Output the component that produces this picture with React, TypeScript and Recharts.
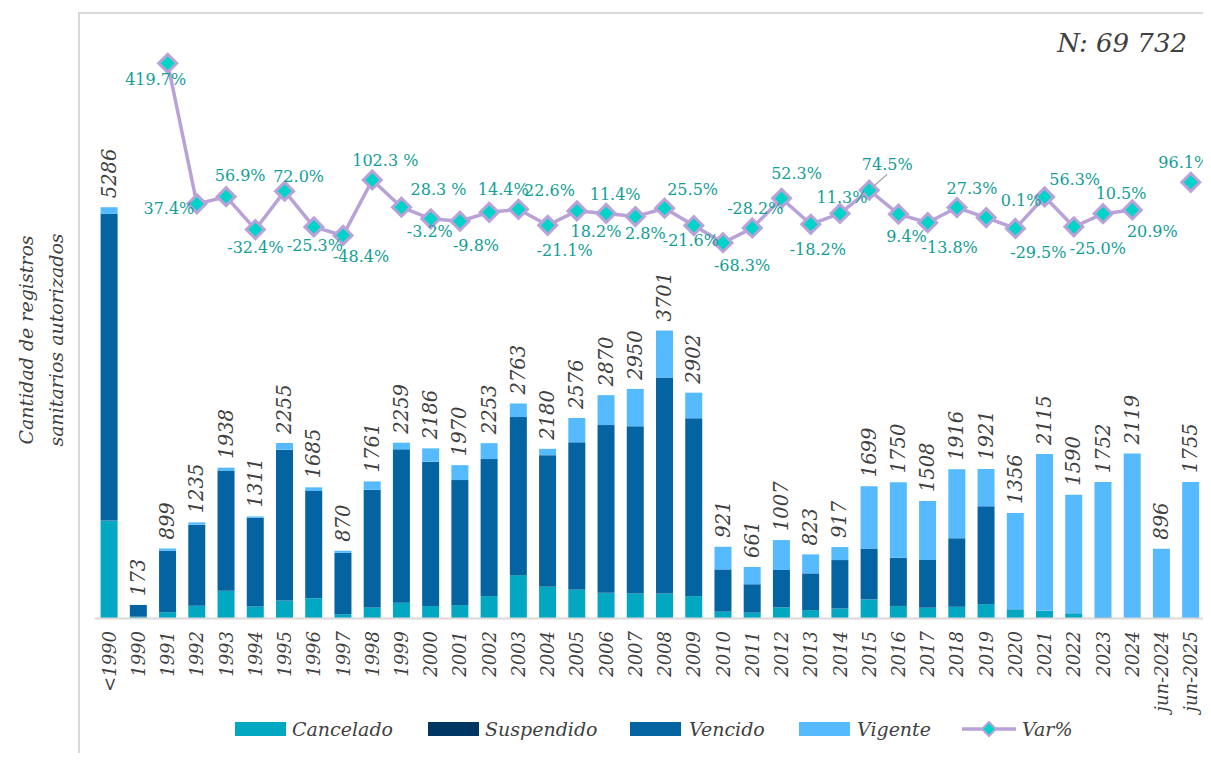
import React from 'react';
import { ComposedChart, Bar, Line, XAxis, YAxis } from 'recharts';

const CATEGORIES = [
  '<1990', '1990', '1991', '1992', '1993', '1994', '1995', '1996', '1997', '1998',
  '1999', '2000', '2001', '2002', '2003', '2004', '2005', '2006', '2007', '2008',
  '2009', '2010', '2011', '2012', '2013', '2014', '2015', '2016', '2017', '2018',
  '2019', '2020', '2021', '2022', '2023', '2024', 'jun-2024', 'jun-2025',
];

const CANCELADO = [
  1255, 20, 80, 160, 353, 151, 228, 259, 54, 139,
  200, 158, 171, 286, 556, 406, 372, 328, 321, 321,
  286, 85, 72, 141, 106, 128, 244, 158, 136, 149,
  183, 115, 98, 64, 13, 0, 0, 0,
];
const SUSPENDIDO = [
  2, 3, 2, 2, 2, 2, 2, 2, 2, 2,
  2, 2, 2, 2, 2, 5, 4, 6, 3, 3,
  2, 2, 2, 2, 2, 2, 2, 2, 2, 2,
  2, 0, 0, 0, 0, 0, 0, 0,
];
const VENCIDO = [
  3944, 150, 787, 1043, 1545, 1141, 1939, 1377, 788, 1513,
  1971, 1855, 1605, 1760, 2030, 1687, 1887, 2151, 2146, 2774,
  2284, 543, 365, 479, 471, 620, 652, 620, 613, 880,
  1256, 3, 3, 3, 5, 0, 0, 0,
];
const VIGENTE = [
  85, 0, 30, 30, 38, 17, 86, 47, 26, 107,
  86, 171, 192, 205, 175, 82, 313, 385, 480, 603,
  330, 291, 222, 385, 244, 167, 801, 970, 757, 885,
  480, 1238, 2014, 1523, 1734, 2119, 896, 1755,
];
const TOTALS = [
  5286, 173, 899, 1235, 1938, 1311, 2255, 1685, 870, 1761,
  2259, 2186, 1970, 2253, 2763, 2180, 2576, 2870, 2950, 3701,
  2902, 921, 661, 1007, 823, 917, 1699, 1750, 1508, 1916,
  1921, 1356, 2115, 1590, 1752, 2119, 896, 1755,
];
const VAR_PCT = [
  null, null, 419.7, 37.4, 56.9, -32.4, 72.0, -25.3, -48.4, 102.3,
  28.3, -3.2, -9.8, 14.4, 22.6, -21.1, 18.2, 11.4, 2.8, 25.5,
  -21.6, -68.3, -28.2, 52.3, -18.2, 11.3, 74.5, 9.4, -13.8, 27.3,
  0.1, -29.5, 56.3, -25.0, 10.5, 20.9, null, 96.1,
];
const VAR_LABELS = [
  '', '', '419.7%', '37.4%', '56.9%', '-32.4%', '72.0%', '-25.3%', '-48.4%', '102.3 %',
  '28.3 %', '-3.2%', '-9.8%', '14.4%', '22.6%', '-21.1%', '18.2%', '11.4%', '2.8%', '25.5%',
  '-21.6%', '-68.3%', '-28.2%', '52.3%', '-18.2%', '11.3%', '74.5%', '9.4%', '-13.8%', '27.3%',
  '0.1%', '-29.5%', '56.3%', '-25.0%', '10.5%', '20.9%', '', '96.1%',
];

// where each Var% label sits relative to its marker (text centre)
const LABEL_OFFSETS: [number, number][] = [
  [0, 0], [0, 0], [-12, 16], [-28, 5], [14, -21], [0, 18], [14, -15], [1, 19], [18, 21], [13, -19],
  [37, -18], [-1, 13], [16, 24], [14, -23], [31, -19], [17, 25], [19, 21], [9, -19], [10, 17], [28, -19],
  [-3, 15], [19, 23], [3, -19], [15, -25], [7, 25], [2, -16], [18, -26], [8, 22], [22, 25], [15, -19],
  [35, -17], [23, 24], [30, -17], [24, 22], [18, -20], [20, 22], [0, 0], [-7, -20],
];
const LEADER_INDEX = 26;

const COLORS = {
  cancelado: '#02A8C1',
  suspendido: '#003662',
  vencido: '#0463A1',
  vigente: '#56BBFE',
  line: '#B9A2D8',
  marker: '#00D4C8',
  pct: '#139E96',
  text: '#404040',
  grid: '#d9d9d9',
};

const FONT = '"DejaVu Serif", serif';

const chartData = CATEGORIES.map((cat, i) => ({
  cat,
  cancelado: CANCELADO[i],
  suspendido: SUSPENDIDO[i],
  vencido: VENCIDO[i],
  vigente: VIGENTE[i],
  total: TOTALS[i],
  varPct: VAR_PCT[i],
}));

const XTick = ({ x, payload }: any) => (
  <text
    x={x}
    y={631}
    transform={`rotate(-90 ${x} 631)`}
    textAnchor="end"
    dominantBaseline="central"
    fontFamily={FONT}
    fontStyle="italic"
    fontSize={18}
    fill={COLORS.text}
  >
    {payload.value}
  </text>
);

const Diamond = ({ cx, cy, value, index }: any) => {
  if (value == null || cx == null || cy == null) return <g key={`d-${index}`} />;
  const r = 9;
  return (
    <polygon
      key={`d-${index}`}
      points={`${cx},${cy - r} ${cx + r},${cy} ${cx},${cy + r} ${cx - r},${cy}`}
      fill={COLORS.marker}
      stroke={COLORS.line}
      strokeWidth={3}
    />
  );
};

const VarLabel = ({ x, y, index }: any) => {
  if (VAR_PCT[index] == null) return null;
  const [dx, dy] = LABEL_OFFSETS[index];
  return (
    <g key={`vl-${index}`}>
      {index === LEADER_INDEX && (
        <line x1={x + 2} y1={y - 2} x2={x + dx} y2={y + dy + 10} stroke="#a6a6a6" strokeWidth={1.2} />
      )}
      <text
        x={x + dx}
        y={y + dy}
        textAnchor="middle"
        dominantBaseline="central"
        fontFamily={FONT}
        fontSize={16}
        fill={COLORS.pct}
      >
        {VAR_LABELS[index]}
      </text>
    </g>
  );
};

const TotalLabel = ({ x, y, index }: any) => {
  const ty = y - 9;
  return (
    <text
      key={`tl-${index}`}
      x={x}
      y={ty}
      transform={`rotate(-90 ${x} ${ty})`}
      textAnchor="start"
      dominantBaseline="central"
      fontFamily={FONT}
      fontStyle="italic"
      fontSize={19.5}
      fill={COLORS.text}
    >
      {TOTALS[index]}
    </text>
  );
};

const LEGEND_Y = 729;

function Legend() {
  const txt = (x: number, label: string) => (
    <text x={x} y={LEGEND_Y} dominantBaseline="central" fontFamily={FONT} fontStyle="italic" fontSize={19} fill={COLORS.text}>
      {label}
    </text>
  );
  return (
    <g>
      <rect x={235} y={LEGEND_Y - 7} width={51} height={14} fill={COLORS.cancelado} />
      {txt(292, 'Cancelado')}
      <rect x={428} y={LEGEND_Y - 7} width={51} height={14} fill={COLORS.suspendido} />
      {txt(485, 'Suspendido')}
      <rect x={630} y={LEGEND_Y - 7} width={51} height={14} fill={COLORS.vencido} />
      {txt(689, 'Vencido')}
      <rect x={799} y={LEGEND_Y - 7} width={51} height={14} fill={COLORS.vigente} />
      {txt(857, 'Vigente')}
      <line x1={962} y1={LEGEND_Y} x2={1016} y2={LEGEND_Y} stroke={COLORS.line} strokeWidth={3.5} />
      <polygon
        points={`989,${LEGEND_Y - 7} 996,${LEGEND_Y} 989,${LEGEND_Y + 7} 982,${LEGEND_Y}`}
        fill={COLORS.marker}
        stroke={COLORS.line}
        strokeWidth={2}
      />
      {txt(1022, 'Var%')}
    </g>
  );
}

export default function App() {
  return (
    <div style={{ position: 'relative', width: 1211, height: 761, margin: -8, background: '#fff', overflow: 'hidden' }}>
      <div
        style={{
          position: 'absolute',
          left: 78,
          top: 12,
          width: 1200,
          height: 800,
          borderTop: `2px solid ${COLORS.grid}`,
          borderLeft: `2px solid ${COLORS.grid}`,
        }}
      />
      <div style={{ position: 'absolute', left: 0, top: 0 }}>
        <ComposedChart
          width={1211}
          height={761}
          data={chartData}
          margin={{ top: 35, right: 5.6, left: 94.6, bottom: 42.6 }}
          barSize={17}
        >
          <XAxis
            dataKey="cat"
            interval={0}
            height={100}
            tickLine={false}
            axisLine={{ stroke: COLORS.grid, strokeWidth: 2 }}
            tick={<XTick />}
          />
          <YAxis yAxisId="left" hide domain={[0, 7500]} />
          <YAxis yAxisId="right" orientation="right" hide domain={[-1090, 496.6]} />
          <Bar yAxisId="left" dataKey="cancelado" stackId="a" fill={COLORS.cancelado} isAnimationActive={false} />
          <Bar yAxisId="left" dataKey="suspendido" stackId="a" fill={COLORS.suspendido} isAnimationActive={false} />
          <Bar yAxisId="left" dataKey="vencido" stackId="a" fill={COLORS.vencido} isAnimationActive={false} />
          <Bar yAxisId="left" dataKey="vigente" stackId="a" fill={COLORS.vigente} isAnimationActive={false} />
          <Line
            yAxisId="left"
            dataKey="total"
            stroke="none"
            dot={false}
            activeDot={false}
            label={TotalLabel}
            isAnimationActive={false}
          />
          <Line
            yAxisId="right"
            dataKey="varPct"
            stroke={COLORS.line}
            strokeWidth={3.5}
            connectNulls={false}
            dot={Diamond}
            activeDot={false}
            label={VarLabel}
            isAnimationActive={false}
          />
        </ComposedChart>
      </div>
      <svg width={1211} height={761} style={{ position: 'absolute', left: 0, top: 0, pointerEvents: 'none' }}>
        <text x={1187} y={43} textAnchor="end" dominantBaseline="central" fontFamily={FONT} fontStyle="italic" fontSize={26} fill={COLORS.text}>
          N: 69 732
        </text>
        <g transform="translate(26 340) rotate(-90)">
          <text x={0} y={0} textAnchor="middle" dominantBaseline="central" fontFamily={FONT} fontStyle="italic" fontSize={19} fill={COLORS.text}>
            Cantidad de registros
          </text>
          <text x={0} y={30} textAnchor="middle" dominantBaseline="central" fontFamily={FONT} fontStyle="italic" fontSize={19} fill={COLORS.text}>
            sanitarios autorizados
          </text>
        </g>
        <Legend />
      </svg>
    </div>
  );
}
